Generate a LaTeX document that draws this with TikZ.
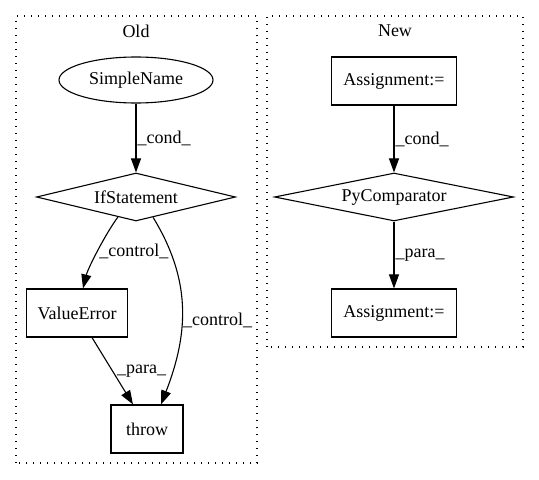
\documentclass[tikz,border=0pt]{standalone}
\usepackage{fontspec}
\setmainfont{Liberation Serif}
\usetikzlibrary{arrows.meta}
\usetikzlibrary{shapes.geometric}
\usetikzlibrary{positioning}
\tikzset{
  box/.style={draw, rectangle, line width=1.1pt, inner sep=0pt, minimum height=48pt},
  rhomb/.style={draw, diamond, shape aspect=4, line width=1.1pt, inner sep=0pt, minimum width=199pt, minimum height=48pt},
  oval/.style={draw, ellipse, line width=1.1pt, inner sep=0pt, minimum width=154pt, minimum height=46pt},
  flow/.style={-{Triangle[length=14pt,width=10pt]}, line width=1.1pt},
  elabel/.style={inner sep=1pt},
  group/.style={dash pattern=on 1.3pt off 5.7pt, line width=1.2pt}
}

\begin{document}
\begin{tikzpicture}[x=1pt, y=1pt, font=\fontsize{18}{22}\selectfont]
            \useasboundingbox (0,0) rectangle (539,480);
            \draw[group] (16,17) rectangle (257,464);
            \draw[group] (267,133) rectangle (523,464);
            \draw (136,449) node                                   (oldtitle) {Old};
            \draw (395,449) node                                   (newtitle) {New};
            \draw (136,400) node[oval]                             (simplename) {SimpleName};
            \draw (136,283) node[rhomb]                            (ifstmt) {IfStatement};
            \draw (77,167) node[box, minimum width=101pt]          (valueerror) {ValueError};
            \draw (147,51) node[box, minimum width=72pt]           (throw) {throw};
            \draw (394,399) node[box, minimum width=125pt]         (assigntop) {Assignment:=};
            \draw (394,283) node[rhomb, minimum width=239pt]       (pycomp) {PyComparator};
            \draw (394,167) node[box, minimum width=125pt]         (assignbot) {Assignment:=};
            \draw[flow] (simplename) -- node[elabel, right] {\_cond\_} (ifstmt);
            \draw[flow] (ifstmt.228) .. controls (106,247) and (88,212) .. node[elabel, right] {\_control\_} ([xshift=6pt]valueerror.north);
            \draw[flow] (ifstmt.310) .. controls (190,202) and (190,150) .. node[elabel, right, pos=0.58] {\_control\_} ([xshift=14pt]throw.north);
            \draw[flow] ([xshift=15pt]valueerror.south) -- node[elabel, right, xshift=3pt] {\_para\_} ([xshift=-14pt]throw.north);
            \draw[flow] (assigntop) -- node[elabel, right] {\_cond\_} (pycomp);
            \draw[flow] (pycomp) -- node[elabel, right] {\_para\_} (assignbot);
\end{tikzpicture}
\end{document}
